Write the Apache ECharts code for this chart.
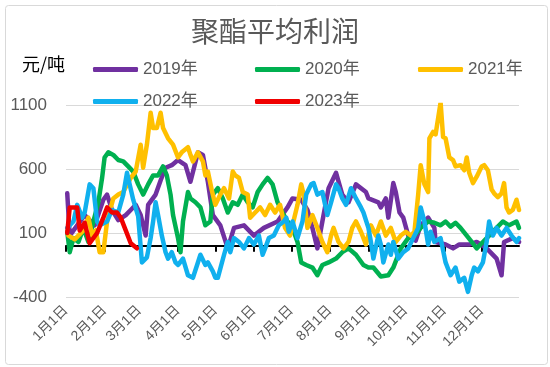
<!DOCTYPE html>
<html>
<head>
<meta charset="utf-8">
<script src="https://cdn.jsdelivr.net/npm/echarts@6/dist/echarts.min.js"></script>
<style>html,body{margin:0;padding:0;background:#fff}#c{width:550px;height:367px}</style>
</head>
<body>
<div id="c"></div>
<script>
// ---- data ----
const monthLengths = [31,28,31,30,31,30,31,31,30,31,30,31];
const monthLabels = ['1月1日','2月1日','3月1日','4月1日','5月1日','6月1日','7月1日','8月1日','9月1日','10月1日','11月1日','12月1日'];
const yTicks = [-400, 100, 600, 1100];
const seriesNames = ['2019年','2020年','2021年','2022年','2023年'];

// day-of-year index (0 = 1月1日) and values (元/吨)
const d2019 = [1,3,15,23,30,33,37,42,48,52,56,60,64,66,72,76,80,85,90,96,100,106,110,114,118,124,130,135,143,151,159,170,178,182,189,194,198,202,206,211,217,222,227,233,241,243,251,253,257,259,263,265,268,271,275,281,285,291,296,297,305,311,316,324,330,338,346,350,352,359,364];
const v2019 = [410,80,240,160,360,400,280,200,240,280,320,240,80,320,400,510,610,630,670,630,500,730,710,500,240,160,-20,140,160,80,140,190,300,370,360,280,140,-20,190,450,570,400,340,480,420,370,340,300,370,220,490,420,260,220,80,40,160,220,140,30,10,-20,10,10,30,-20,-100,-230,30,60,30];

const d2020 = [1,3,6,10,14,18,22,26,29,31,34,38,42,46,50,54,58,62,66,70,74,78,81,84,86,90,92,94,98,100,104,108,112,116,118,122,126,130,134,138,142,146,150,154,158,162,166,170,174,178,182,186,189,193,198,202,206,211,217,222,227,233,239,243,247,253,259,263,269,275,280,285,291,296,301,305,309,313,317,322,326,330,335,340,346,351,356,362,364];
const v2020 = [110,-50,60,30,140,30,190,340,530,690,730,710,670,660,620,580,480,400,480,550,550,620,550,400,240,60,-50,190,420,370,340,300,160,190,400,450,370,260,340,320,400,340,300,420,480,530,480,340,260,190,140,30,-130,-150,-170,-230,-150,-130,-100,-50,-20,-70,-150,-170,-170,-240,-230,-170,-20,60,80,140,190,180,160,190,150,180,140,80,30,-20,30,80,140,190,160,190,140];

const d2021 = [2,7,14,18,21,24,27,30,33,38,42,46,52,56,60,62,65,68,70,73,76,78,82,86,90,93,98,100,102,106,110,112,114,117,120,124,127,131,134,136,139,142,146,148,152,156,160,164,168,172,176,180,186,189,191,194,198,202,206,210,213,215,219,223,227,230,233,237,241,245,249,253,257,261,265,269,273,277,280,283,285,288,291,292,295,297,301,303,305,308,311,313,317,320,322,324,327,330,334,336,339,342,344,347,350,352,354,356,359,362,364];
const v2021 = [80,50,120,220,80,120,-50,-50,190,370,400,420,530,580,790,610,790,1040,920,920,1040,920,840,790,690,730,770,710,660,730,660,550,580,440,320,400,450,370,580,550,530,420,400,220,260,300,240,320,260,320,140,80,320,480,400,140,240,140,30,-50,80,140,30,-20,30,140,190,110,10,160,80,190,80,140,30,80,110,80,110,400,630,480,420,840,890,870,1120,850,840,690,670,620,630,590,690,570,490,540,620,630,590,440,410,380,410,490,300,260,280,360,280];

const d2022 = [1,6,9,13,15,19,22,25,27,33,37,42,46,49,54,58,61,65,68,70,72,74,77,80,82,85,88,90,94,98,102,106,108,112,114,118,120,122,127,130,132,135,139,143,147,151,155,158,160,163,167,171,175,177,179,182,186,190,193,197,199,202,206,210,213,217,219,222,225,229,233,237,239,243,245,247,251,253,255,259,261,263,267,271,275,279,283,285,288,291,293,296,301,305,309,313,316,320,323,326,328,331,335,338,340,343,346,350,354,358,362,364];
const v2022 = [140,190,320,220,260,480,450,190,160,190,280,260,400,570,360,230,-130,-90,60,190,340,240,80,-50,-100,-50,-130,-150,-100,-230,-250,-130,-70,-150,-130,-200,-250,-250,-70,30,-50,60,30,-20,60,10,80,-70,-20,60,80,160,190,220,110,190,60,190,400,480,490,400,420,240,340,480,450,370,320,450,370,300,260,140,30,-100,80,10,-130,10,-70,30,-100,-50,-20,60,140,300,190,10,110,30,60,-130,-230,-170,-280,-250,-360,-230,-170,-200,-130,30,190,80,140,80,140,80,30,60];

const d2023 = [1,3,9,11,15,19,25,30,33,37,41,44,48,52,57];
const v2023 = [100,300,300,120,180,20,100,220,300,260,260,220,120,20,-20];

// ---- build categories ----
const dates = [];
monthLengths.forEach((len, m) => { for (let d = 1; d <= len; d++) dates.push((m + 1) + '月' + d + '日'); });
const monthStarts = new Set();
{ let acc = 0; monthLengths.forEach(len => { monthStarts.add(acc); acc += len; }); }
const isMonthStart = (i) => monthStarts.has(i);

const colors = ['#7030A0','#00B050','#FFC000','#10B0EE','#F00000'];
const dayArrays = [d2019, d2020, d2021, d2022, d2023];
const valArrays = [v2019, v2020, v2021, v2022, v2023];

const series = seriesNames.map((name, k) => ({
  name, type: 'line', xAxisIndex: 0, yAxisIndex: 0,
  data: dayArrays[k].map((d, i) => [d, valArrays[k][i]]),
  showSymbol: false, symbol: 'none', smooth: false,
  lineStyle: { color: colors[k], width: 4.5, join: 'round', cap: 'round' },
  itemStyle: { color: colors[k] },
  z: 2 + k, animation: false
}));

const legendPos = [[88,56],[250,56],[413,56],[88,88],[250,88]];
const legends = seriesNames.map((name, k) => ({
  data: [name], left: legendPos[k][0], top: legendPos[k][1],
  icon: 'roundRect', itemWidth: 45, itemHeight: 5, itemGap: 0,
  textStyle: { color: '#595959', fontSize: 17, fontFamily: 'Liberation Sans, Noto Sans CJK SC' },
  selectedMode: false
}));

const chart = echarts.init(document.getElementById('c'), null, { renderer: 'canvas' });
chart.setOption({
  animation: false,
  backgroundColor: '#fff',
  title: {
    text: '聚酯平均利润', left: 'center', top: 12,
    textStyle: { color: '#595959', fontSize: 28, fontWeight: 'normal', fontFamily: 'Noto Sans CJK SC' }
  },
  graphic: [
    { type: 'rect', left: 3, top: 3, shape: { width: 542, height: 359, r: 3 }, style: { fill: 'none', stroke: '#D9D9D9', lineWidth: 1 }, silent: true },
    { type: 'text', left: 22, top: 55, style: { text: '元/吨', fill: '#000', font: '18px "Noto Sans CJK SC"' } }
  ],
  legend: legends,
  grid: { left: 66, right: 31, top: 105, bottom: 70, containLabel: false },
  xAxis: [
    {
      type: 'category', data: dates, boundaryGap: false, position: 'bottom',
      axisLine: { show: false, onZero: false }, axisTick: { show: false },
      axisLabel: { interval: isMonthStart, rotate: 45, margin: 11, color: '#595959', fontSize: 14, fontFamily: 'Liberation Sans, Noto Sans CJK SC' },
      splitLine: { show: false }
    },
    {
      type: 'category', data: dates, boundaryGap: false, position: 'top',
      axisLine: { show: true, onZero: true, lineStyle: { color: '#000', width: 2 } },
      axisTick: { show: true, inside: true, interval: isMonthStart, length: 6, lineStyle: { color: '#000', width: 2 } },
      axisLabel: { show: false }, splitLine: { show: false }
    }
  ],
  yAxis: {
    type: 'value', min: yTicks[0], max: yTicks[yTicks.length - 1], interval: 500,
    axisLine: { show: false }, axisTick: { show: false },
    axisLabel: { color: '#595959', fontSize: 17, margin: 19, fontFamily: 'Liberation Sans', formatter: (v) => String(v) },
    splitLine: { lineStyle: { color: '#D9D9D9', width: 1 } }
  },
  series
});
</script>
</body>
</html>
